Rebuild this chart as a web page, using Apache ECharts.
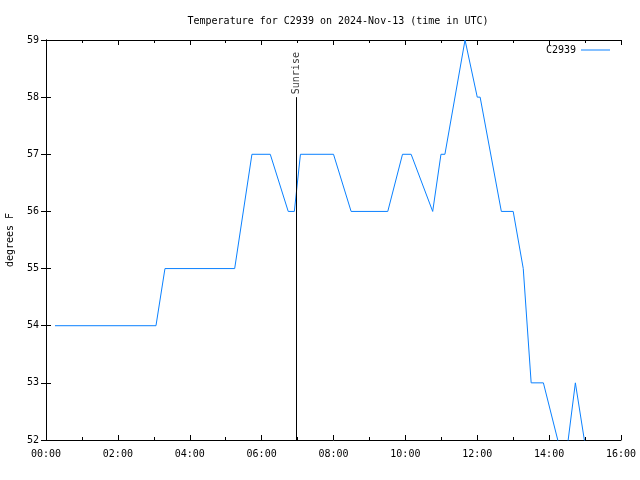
<!DOCTYPE html>
<html>
<head>
<meta charset="utf-8">
<script src="https://cdn.jsdelivr.net/npm/echarts@6/dist/echarts.min.js"></script>
<style>html,body{margin:0;padding:0;background:#fff}#c{width:640px;height:480px}</style>
</head>
<body>
<div id="c"></div>
<script>
const titleText = 'Temperature for C2939 on 2024-Nov-13 (time in UTC)';
const seriesName = 'C2939';
const yAxisName = 'degrees F';
// time in hours (UTC)
const timesH = [0.25, 3.06, 3.31, 5.25, 5.73, 6.24, 6.74, 6.91, 7.08, 8.0, 8.49, 9.51, 9.92, 10.16, 10.76, 10.99, 11.1, 11.66, 12.0, 12.08, 12.67, 13.0, 13.28, 13.5, 13.84, 14.24, 14.33, 14.73, 14.98, 15.23];
const tempsF = [54, 54, 55, 55, 57, 57, 56, 56, 57, 57, 56, 56, 57, 57, 56, 57, 57, 59, 58, 58, 56, 56, 55, 53, 53, 52, 51, 53, 52, 51];
const sunriseH = 6.96;
const sunriseTop = 58;
const sunriseLabelAt = 58.42;
const xMin = 0, xMax = 16, xStep = 2;
const yMin = 52, yMax = 59, yStep = 1;

const FONT = 'DejaVu Sans Mono';
const pad = n => (n < 10 ? '0' : '') + n;
const lineData = timesH.map((t, i) => [t, tempsF[i]]);

const baseAxisLine = { show: true, lineStyle: { color: '#000', width: 1 } };
const chart = echarts.init(document.getElementById('c'), null, { renderer: 'canvas' });
chart.setOption({
  animation: false,
  backgroundColor: '#fff',
  title: {
    text: titleText,
    left: 333, top: 11, textAlign: 'center',
    textStyle: { fontFamily: FONT, fontSize: 10, fontWeight: 'normal', color: '#000' }
  },
  legend: {
    data: [seriesName],
    right: 30, top: 45, align: 'right', padding: 0,
    icon: 'rect', itemWidth: 29, itemHeight: 1,
    textStyle: { fontFamily: FONT, fontSize: 10, color: '#000' }
  },
  grid: { left: 46, right: 19, top: 40, bottom: 40, containLabel: false, outerBoundsMode: 'none' },
  xAxis: [{
    type: 'value', min: xMin, max: xMax, interval: xStep, position: 'bottom',
    axisLine: baseAxisLine,
    axisTick: { show: true, inside: true, length: 5, lineStyle: { color: '#000' } },
    minorTick: { show: true, splitNumber: 2, length: 3, lineStyle: { color: '#000' } },
    splitLine: { show: false },
    axisLabel: { formatter: v => pad(v) + ':00', fontFamily: FONT, fontSize: 10, color: '#000', margin: 9 }
  }, {
    type: 'value', min: xMin, max: xMax, interval: xStep, position: 'top',
    axisLine: baseAxisLine,
    axisTick: { show: true, inside: true, length: 5, lineStyle: { color: '#000' } },
    minorTick: { show: true, splitNumber: 2, length: 3, lineStyle: { color: '#000' } },
    splitLine: { show: false },
    axisLabel: { show: false }
  }],
  yAxis: [{
    type: 'value', min: yMin, max: yMax, interval: yStep, position: 'left',
    name: yAxisName, nameLocation: 'middle', nameGap: 31, nameRotate: 90,
    nameTextStyle: { fontFamily: FONT, fontSize: 10, color: '#000' },
    axisLine: baseAxisLine,
    axisTick: { show: true, inside: true, length: 5, lineStyle: { color: '#000' } },
    splitLine: { show: false },
    axisLabel: { fontFamily: FONT, fontSize: 10, color: '#000', margin: 7 }
  }, {
    type: 'value', min: yMin, max: yMax, interval: yStep, position: 'right',
    axisLine: baseAxisLine,
    axisTick: { show: true, inside: true, length: 5, lineStyle: { color: '#000' } },
    splitLine: { show: false },
    axisLabel: { show: false }
  }],
  series: [{
    name: seriesName,
    type: 'line',
    data: lineData,
    showSymbol: false, symbol: 'none',
    clip: true,
    lineStyle: { color: '#0a80ff', width: 1 },
    itemStyle: { color: '#0a80ff' },
    markLine: {
      silent: true, symbol: ['none', 'none'], animation: false,
      lineStyle: { color: '#000', width: 1, type: 'solid' },
      label: { show: false },
      data: [[{ coord: [sunriseH, yMin] }, { coord: [sunriseH, sunriseTop] }]]
    }
  }, {
    name: 'sunrise-label',
    type: 'scatter',
    data: [[sunriseH, sunriseLabelAt]],
    symbol: 'circle', symbolSize: 1, silent: true,
    itemStyle: { color: 'rgba(0,0,0,0)' },
    label: {
      show: true, position: 'inside', rotate: 90, formatter: 'Sunrise',
      fontFamily: FONT, fontSize: 10, color: '#000', textBorderWidth: 0
    }
  }]
});
</script>
</body>
</html>
